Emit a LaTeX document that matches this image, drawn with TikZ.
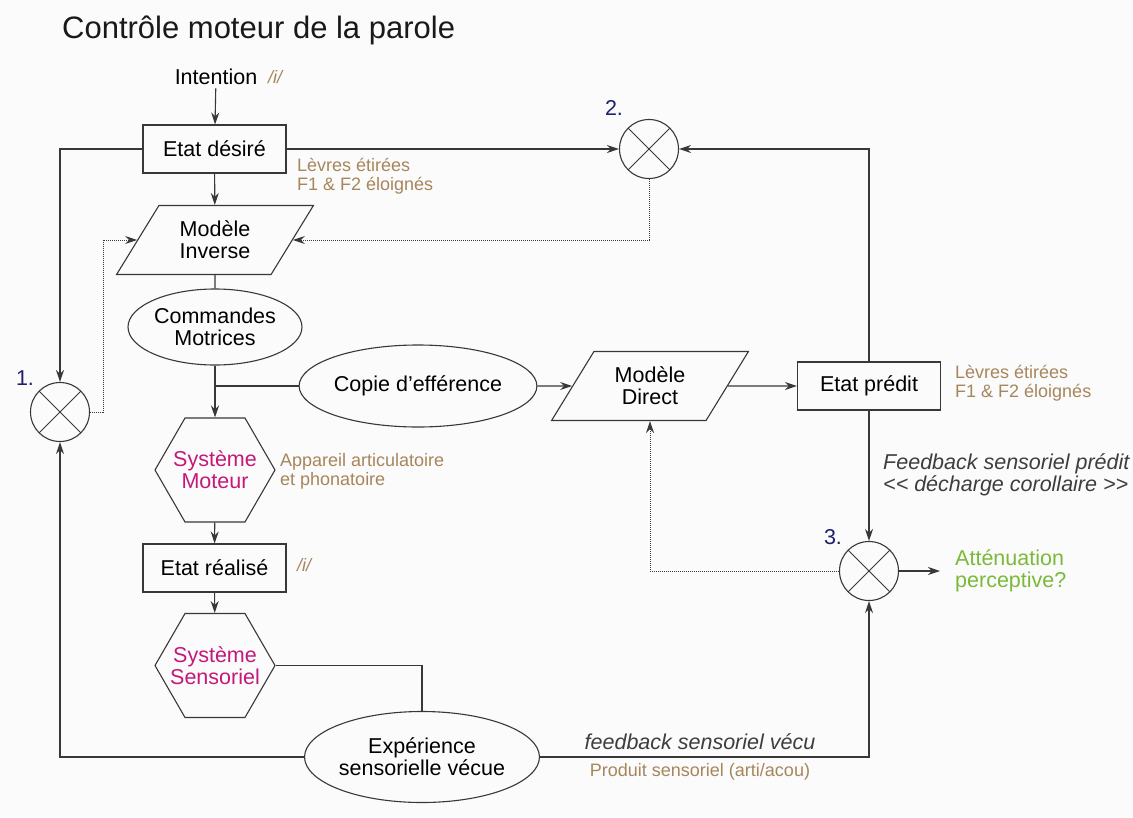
\documentclass[tikz,border=0pt]{standalone}
\usepackage{fontspec}
\setmainfont{Liberation Sans}
\usetikzlibrary{shapes.geometric}
\usetikzlibrary{arrows.meta}

\definecolor{olivetxt}{RGB}{166,134,92}
\definecolor{sysmag}{RGB}{196,24,122}
\definecolor{numblue}{RGB}{30,30,112}
\definecolor{attgreen}{RGB}{122,186,58}
\definecolor{fbgray}{RGB}{62,62,62}
\definecolor{bgpaper}{RGB}{251,251,251}

\newcommand{\mainsize}{\fontsize{21.5}{22}\selectfont}
\newcommand{\notesize}{\fontsize{18}{19}\selectfont}

\tikzset{
  lnk/.style={draw=black!78, line width=1.1pt},
  arr/.style={lnk, -{Stealth[length=12pt, width=8pt]}},
  dotarr/.style={draw=black!78, line width=1pt, densely dotted, -{Stealth[length=12pt, width=8pt]}},
  box/.style={lnk, rectangle, minimum width=143pt, minimum height=48pt, inner sep=0pt},
  oval/.style={lnk, ellipse, inner sep=0pt, align=center},
  model/.style={lnk, trapezium, trapezium left angle=55, trapezium right angle=125,
    trapezium stretches=true, minimum width=197pt, minimum height=69pt, inner sep=0pt, align=center},
  hexa/.style={lnk, regular polygon, regular polygon sides=6, minimum size=120pt, inner sep=0pt},
  hexlabel/.style={text=sysmag, align=center},
  sumpt/.style={lnk, circle, minimum size=59pt, inner sep=0pt,
    path picture={\draw[black!78, line width=1pt]
      (path picture bounding box.north west) -- (path picture bounding box.south east)
      (path picture bounding box.north east) -- (path picture bounding box.south west);}},
  note/.style={text=olivetxt, font=\notesize, align=left, anchor=west, inner sep=0pt},
  num/.style={text=numblue}
}

\begin{document}
\begin{tikzpicture}[x=1pt, y=-1pt, font=\mainsize]
  \fill[bgpaper] (0,0) rectangle (1133,817);
  \useasboundingbox (0,0) rectangle (1133,817);

  \node[anchor=base west, inner sep=0pt, font=\fontsize{31}{34}\selectfont, text=black!90] at (62,38) (title) {Contrôle moteur de la parole};

  % chaine de commande
  \node at (216,77) (int) {Intention};
  \node[note, font=\notesize\itshape] at (268,77) (inti) {/i/};
  \node[box] at (214.5,149) (ed) {Etat désiré};
  \node[note] at (297,176) (edn) {Lèvres étirées\\F1 \& F2 éloignés};
  \node[model] at (215,240) (mi) {Modèle\\Inverse};
  \node[oval, minimum width=174pt, minimum height=76pt] at (215,327) (cm) {Commandes\\Motrices};
  \coordinate (jn) at (215,386);
  \node[hexa, label={[hexlabel]center:Système\\Moteur}] at (215,470) (sm) {};
  \node[note] at (280,471) (smn) {Appareil articulatoire\\et phonatoire};
  \node[box] at (214.5,568) (er) {Etat réalisé};
  \node[note, font=\notesize\itshape] at (297,565) (eri) {/i/};
  \node[hexa, label={[hexlabel]center:Système\\Sensoriel}] at (215,665.5) (ss) {};
  \node[oval, minimum width=212pt, minimum height=91pt] at (422,757) (exp) {Expérience\\sensorielle vécue};

  % copie d'efference
  \node[oval, minimum width=202pt, minimum height=82pt] at (418,386) (cde) {Copie d'efférence};
  \node[model] at (650,386) (md) {Modèle\\Direct};
  \node[box] at (869,386) (ep) {Etat prédit};
  \node[note] at (955,383) (epn) {Lèvres étirées\\F1 \& F2 éloignés};

  % comparateurs
  \node[sumpt] at (60,412) (s1) {};
  \node[sumpt] at (649,149) (s2) {};
  \node[sumpt] at (869,571) (s3) {};
  \node[num] at (25,378) (n1) {1.};
  \node[num] at (614,108) (n2) {2.};
  \node[num] at (833,537) (n3) {3.};

  \node[font=\mainsize\itshape, text=fbgray, align=left, anchor=west, inner sep=0pt] at (883,475) (fbp) {Feedback sensoriel prédit\\<\kern0pt< décharge corollaire >\kern0pt>};
  \node[font=\mainsize\itshape, text=fbgray] at (700,742) (fbv) {feedback sensoriel vécu};
  \node[note, anchor=center] at (700,772) (prod) {Produit sensoriel (arti/acou)};
  \node[text=attgreen, align=left, anchor=west, inner sep=0pt] at (955,571) (att) {Atténuation\\perceptive?};

  \draw[arr] (int) -- (ed);
  \draw[arr] (ed) -- (mi);
  \draw[lnk] (mi) -- (cm);
  \draw[lnk] (cm) -- (jn);
  \draw[arr] (jn) -- (sm);
  \draw[lnk] (jn) -- (cde);
  \draw[arr] (cde) -- (md);
  \draw[arr] (md) -- (ep);
  \draw[arr] (sm) -- (er);
  \draw[arr] (er) -- (ss);
  \draw[lnk] (ss.east) -| (exp.north);

  \draw[arr] (ed) -- (s2);
  \draw[arr] (ep.north) |- (s2.east);
  \draw[arr] (ep) -- (s3);
  \draw[arr] (ed.west) -| (s1.north);
  \draw[arr] (exp.west) -| (s1.south);
  \draw[arr] (exp.east) -| (s3.south);
  \draw[arr, shorten >=15pt] (s3) -- (att);

  \draw[dotarr] (s2.south) |- (mi.east);
  \draw[dotarr] (s1.east) -- ++(13,0) |- (mi.west);
  \draw[dotarr] (s3.west) -| (md.south);
\end{tikzpicture}
\end{document}
